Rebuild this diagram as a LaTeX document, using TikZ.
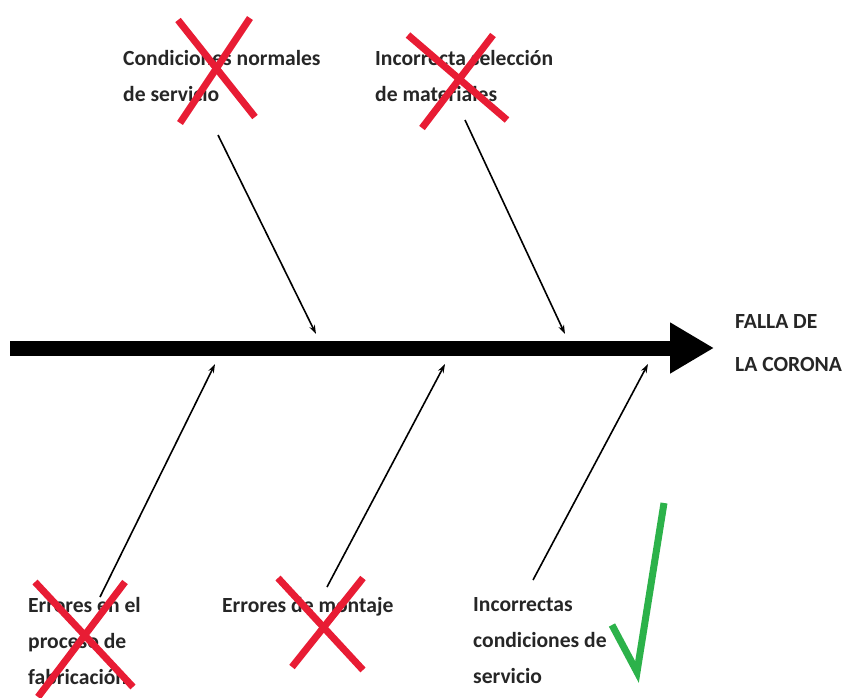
\documentclass[tikz,border=0pt]{standalone}
\usepackage{fontspec}
\setmainfont{Carlito}
\usetikzlibrary{arrows.meta}
\definecolor{crossred}{RGB}{232,28,52}
\definecolor{okgreen}{RGB}{44,178,74}
\begin{document}
\begin{tikzpicture}[x=1pt,y=-1pt,
  lbl/.style={anchor=north west,inner sep=0pt,font=\fontsize{21.6}{36}\selectfont\bfseries,align=left,text=black!85},
  cause/.style={draw=black,line width=1.6pt,-{Stealth[length=9pt,width=6pt]}},
  cross/.style={draw=crossred,line width=7pt,line cap=butt},
  tick/.style={draw=okgreen,line width=7pt,line join=miter}]
\useasboundingbox (0,0) rectangle (847,697);
% spine and head
\coordinate (tail) at (10,348);
\coordinate (head) at (714,348);
\draw[line width=15pt,-{Triangle[length=44pt,width=48pt]}] (tail) -- (head);
\node[lbl] (effect) at (735,314) {FALLA DE\\[7pt]LA CORONA};
% causes above the spine
\node[lbl] (c1) at (123,50) {Condiciones normales\\de servicio};
\node[lbl] (c2) at (375,50) {Incorrecta selección\\de materiales};
\coordinate (c1s) at (218,135);
\coordinate (c1e) at (316,334);
\coordinate (c2s) at (465,120);
\coordinate (c2e) at (565,334);
\draw[cause] (c1s) -- (c1e);
\draw[cause] (c2s) -- (c2e);
% causes below the spine
\node[lbl] (c3) at (28,597) {Errores en el\\proceso de\\fabricación};
\node[lbl] (c4) at (222,597) {Errores de montaje};
\node[lbl] (c5) at (473,597) {Incorrectas\\condiciones de\\servicio};
\coordinate (c3s) at (100,597);
\coordinate (c3e) at (215,364);
\coordinate (c4s) at (327,587);
\coordinate (c4e) at (445,364);
\coordinate (c5s) at (533,580);
\coordinate (c5e) at (648,364);
\draw[cause] (c3s) -- (c3e);
\draw[cause] (c4s) -- (c4e);
\draw[cause] (c5s) -- (c5e);
% rejected causes
\draw[cross] (178,20) -- (255,117);
\draw[cross] (250,18) -- (180,123);
\draw[cross] (408,35) -- (507,120);
\draw[cross] (493,35) -- (422,128);
\draw[cross] (35,582) -- (133,687);
\draw[cross] (125,582) -- (38,697);
\draw[cross] (278,578) -- (363,670);
\draw[cross] (363,578) -- (292,667);
% accepted cause
\draw[tick] (612,625) -- (637,672) -- (664,503);
\end{tikzpicture}
\end{document}
